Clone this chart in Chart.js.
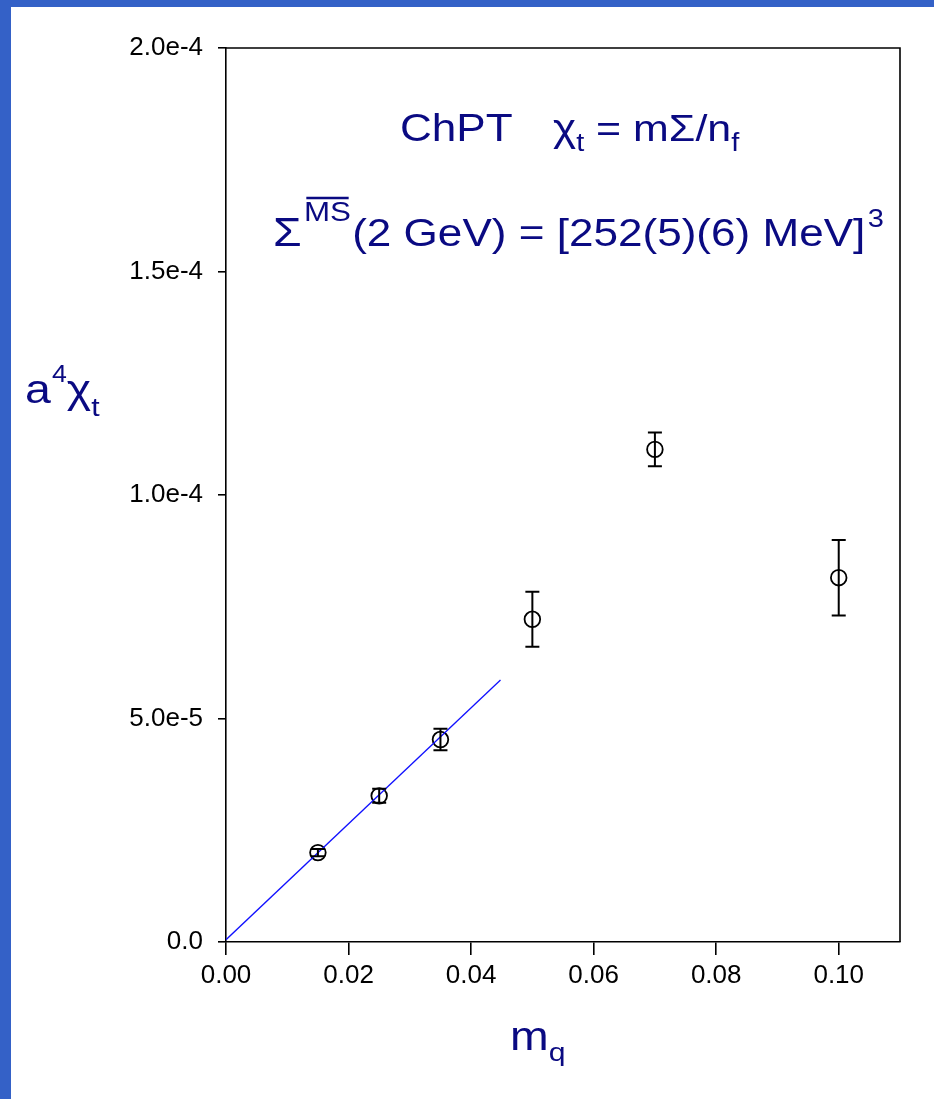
<!DOCTYPE html>
<html>
<head>
<meta charset="utf-8">
<script src="https://cdn.jsdelivr.net/npm/chart.js@4.4.1/dist/chart.umd.min.js"></script>
<style>
  html, body { margin: 0; padding: 0; background: #3461c7; width: 934px; height: 1099px; overflow: hidden; }
  #wrap { position: absolute; left: 11px; top: 7px; width: 923px; height: 1092px; background: #ffffff; }
  canvas { display: block; }
</style>
</head>
<body>
<div id="wrap"><canvas id="c" width="923" height="1092"></canvas></div>
<script>
// ---- data ----
const massValues = [0.015, 0.025, 0.035, 0.05, 0.07, 0.10];
const chiValues  = [2.0e-5, 3.27e-5, 4.53e-5, 7.22e-5, 1.102e-4, 8.15e-5];
const chiErrors  = [0.8e-6, 1.57e-6, 2.4e-6, 6.15e-6, 3.76e-6, 8.46e-6];
const fitMass = [0, 0.0448];
const fitChi  = [5e-7, 5.86e-5];
const xTickValues = [0, 0.02, 0.04, 0.06, 0.08, 0.10];
const xTickLabels = ['0.00', '0.02', '0.04', '0.06', '0.08', '0.10'];
const yTickValues = [0, 5e-5, 1e-4, 1.5e-4, 2e-4];
const yTickLabels = ['0.0', '5.0e-5', '1.0e-4', '1.5e-4', '2.0e-4'];

const NAVY = '#0a0a82';
const FONT = '"Liberation Sans", Arial, sans-serif';
const SX = 1.16;

function drawRich(ctx, x, y, parts) {
  ctx.save();
  ctx.translate(x, y);
  ctx.scale(SX, 1);
  let cx = 0;
  ctx.fillStyle = NAVY;
  ctx.strokeStyle = NAVY;
  ctx.textBaseline = 'alphabetic';
  ctx.textAlign = 'left';
  for (const p of parts) {
    cx += (p.gap || 0);
    ctx.font = p.size + 'px ' + FONT;
    const w = ctx.measureText(p.t).width;
    ctx.fillText(p.t, cx, p.dy || 0);
    if (p.over) {
      ctx.lineWidth = 2.5;
      ctx.beginPath();
      ctx.moveTo(cx + 2, (p.dy || 0) - p.size * 0.85);
      ctx.lineTo(cx + w - 2, (p.dy || 0) - p.size * 0.85);
      ctx.stroke();
    }
    cx += w;
  }
  ctx.restore();
}

const textPlugin = {
  id: 'texts',
  afterDraw(chart) {
    const ctx = chart.ctx;
    // Title line 1
    drawRich(ctx, 389, 134, [{ t: 'ChPT', size: 38 }]);
    drawRich(ctx, 542, 134, [
      { t: 'χ', size: 38 },
      { t: 't', size: 25, dy: 10 },
      { t: ' = mΣ/n', size: 37 },
      { t: 'f', size: 25, dy: 10 }
    ]);
    // Title line 2
    drawRich(ctx, 262, 239, [
      { t: 'Σ', size: 40 },
      { t: 'MS', size: 27, dy: -25, over: true, gap: 2 },
      { t: '(2 GeV) = [252(5)(6) MeV]', size: 38, gap: 1 },
      { t: '3', size: 25, dy: -19, gap: 2 }
    ]);
    // y axis title
    drawRich(ctx, 14, 396, [
      { t: 'a', size: 40 },
      { t: '4', size: 23, dy: -21, gap: 1 },
      { t: 'χ', size: 40 },
      { t: 't', size: 26, dy: 13 }
    ]);
    // x axis title
    drawRich(ctx, 499, 1043, [
      { t: 'm', size: 40 },
      { t: 'q', size: 26, dy: 11 }
    ]);
  }
};

const frameErrPlugin = {
  id: 'frameErr',
  afterDatasetsDraw(chart) {
    const ctx = chart.ctx;
    const xs = chart.scales.x, ys = chart.scales.y;
    ctx.save();
    ctx.strokeStyle = '#000';
    ctx.lineWidth = 2;
    for (let i = 0; i < massValues.length; i++) {
      const px = xs.getPixelForValue(massValues[i]);
      const yt = ys.getPixelForValue(chiValues[i] + chiErrors[i]);
      const yb = ys.getPixelForValue(chiValues[i] - chiErrors[i]);
      ctx.beginPath();
      ctx.moveTo(px, yt); ctx.lineTo(px, yb);
      ctx.moveTo(px - 7, yt); ctx.lineTo(px + 7, yt);
      ctx.moveTo(px - 7, yb); ctx.lineTo(px + 7, yb);
      ctx.stroke();
    }
    const a = chart.chartArea;
    ctx.lineWidth = 1.6;
    ctx.beginPath();
    ctx.moveTo(a.left, a.top); ctx.lineTo(a.right, a.top); ctx.lineTo(a.right, a.bottom);
    ctx.stroke();
    ctx.restore();
  }
};

new Chart(document.getElementById('c'), {
  type: 'scatter',
  data: {
    datasets: [
      {
        data: fitMass.map((m, i) => ({ x: m, y: fitChi[i] })),
        showLine: true,
        borderColor: '#1010ff',
        borderWidth: 1.3,
        pointRadius: 0,
        fill: false
      },
      {
        data: massValues.map((m, i) => ({ x: m, y: chiValues[i] })),
        showLine: false,
        pointStyle: 'circle',
        pointRadius: 7.8,
        pointBorderWidth: 1.8,
        borderColor: '#000',
        backgroundColor: 'rgba(0,0,0,0)'
      }
    ]
  },
  options: {
    responsive: false,
    animation: false,
    devicePixelRatio: 1,
    layout: { padding: { left: 0, top: 41, right: 34, bottom: 0 } },
    plugins: { legend: { display: false }, tooltip: { enabled: false } },
    scales: {
      x: {
        type: 'linear',
        min: 0, max: 0.11,
        afterBuildTicks(s) { s.ticks = xTickValues.map(v => ({ value: v })); },
        afterFit(s) { s.height = 157; },
        ticks: {
          callback(v, i) { return xTickLabels[i]; },
          font: { family: FONT, size: 26 },
          color: '#000',
          padding: 5,
          maxRotation: 0
        },
        grid: { drawOnChartArea: false, drawTicks: true, tickLength: 13, color: '#000', lineWidth: 1.6 },
        border: { display: true, color: '#000', width: 1.6 }
      },
      y: {
        type: 'linear',
        min: 0, max: 2e-4,
        afterBuildTicks(s) { s.ticks = yTickValues.map(v => ({ value: v })); },
        afterFit(s) { s.width = 215; },
        ticks: {
          callback(v, i) { return yTickLabels[i]; },
          font: { family: FONT, size: 26 },
          color: '#000',
          padding: 15
        },
        grid: { drawOnChartArea: false, drawTicks: true, tickLength: 8, color: '#000', lineWidth: 1.6 },
        border: { display: true, color: '#000', width: 1.6 }
      }
    }
  },
  plugins: [frameErrPlugin, textPlugin]
});
</script>
</body>
</html>
